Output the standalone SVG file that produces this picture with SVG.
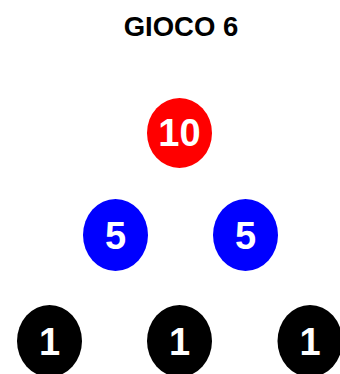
<svg xmlns="http://www.w3.org/2000/svg" width="340" height="374" viewBox="0 0 340 374">
<style>
.t{font-family:"Liberation Sans",Arial,sans-serif;font-weight:bold;text-anchor:middle}
.n{font-size:38px;fill:#fff}
.title{font-size:27.5px;fill:#000}
</style>
<rect width="340" height="374" fill="#fff"/>
<text class="t title" x="181" y="36">GIOCO 6</text>
<g id="connectors"></g>
<g id="n10"><ellipse cx="179.5" cy="133" rx="32.5" ry="35" fill="#ff0000"/><text class="t n" x="179.5" y="146">10</text></g>
<g id="n5a"><ellipse cx="115.5" cy="235" rx="32.5" ry="36" fill="#0000ff"/><text class="t n" x="115.5" y="249">5</text></g>
<g id="n5b"><ellipse cx="245.5" cy="235" rx="32.5" ry="36" fill="#0000ff"/><text class="t n" x="245.5" y="249">5</text></g>
<g id="n1a"><ellipse cx="49.5" cy="341" rx="32.5" ry="36" fill="#000"/><text class="t n" x="49.5" y="355">1</text></g>
<g id="n1b"><ellipse cx="179.5" cy="341" rx="32.5" ry="36" fill="#000"/><text class="t n" x="179.5" y="355">1</text></g>
<g id="n1c"><ellipse cx="310" cy="341" rx="32.5" ry="36" fill="#000"/><text class="t n" x="310" y="355">1</text></g>
</svg>
